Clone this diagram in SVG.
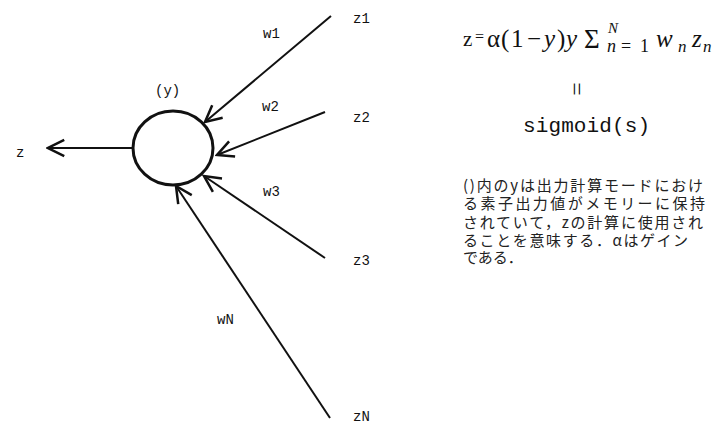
<svg xmlns="http://www.w3.org/2000/svg" width="713" height="424" viewBox="0 0 713 424">
<style>
  .lbl { font-family: "Liberation Mono", "DejaVu Sans Mono", monospace; font-size: 14px; fill: #111; }
  .edge { stroke: #111; stroke-width: 2; fill: none; }
  .math { font-family: "Liberation Serif", "DejaVu Serif", serif; fill: #111; }
  .it { font-style: italic; }
  .jp { font-family: "Noto Sans CJK JP", "Noto Sans", sans-serif; font-size: 15px; fill: #222; }
</style>
<defs>
  <marker id="arr" markerUnits="userSpaceOnUse" markerWidth="20" markerHeight="20" viewBox="-14 -8 16 16" refX="0" refY="0" orient="auto">
    <path d="M -13 -6.5 L 0 0 L -13 6.5" fill="none" stroke="#111" stroke-width="2"/>
  </marker>
</defs>
<rect width="713" height="424" fill="#fff"/>

<g id="connectors">
  <line class="edge" x1="133" y1="148" x2="48" y2="148" marker-end="url(#arr)"/>
  <line class="edge" x1="331" y1="16" x2="205" y2="122" marker-end="url(#arr)"/>
  <line class="edge" x1="325" y1="112" x2="217" y2="155" marker-end="url(#arr)"/>
  <line class="edge" x1="325" y1="258" x2="204" y2="176" marker-end="url(#arr)"/>
  <line class="edge" x1="330" y1="418" x2="176" y2="186" marker-end="url(#arr)"/>
  <text class="lbl" x="263" y="38">w1</text>
  <text class="lbl" x="262" y="111">w2</text>
  <text class="lbl" x="263" y="196">w3</text>
  <text class="lbl" x="217" y="324">wN</text>
</g>

<g id="neuron">
  <ellipse cx="173" cy="148" rx="40" ry="37" fill="#fff" stroke="#111" stroke-width="3"/>
  <text class="lbl" x="155" y="95" font-size="13">(y)</text>
</g>
<g id="output-z"><text class="lbl" x="16" y="157">z</text></g>
<g id="input-z1"><text class="lbl" x="353" y="23">z1</text></g>
<g id="input-z2"><text class="lbl" x="353" y="122">z2</text></g>
<g id="input-z3"><text class="lbl" x="353" y="265">z3</text></g>
<g id="input-zN"><text class="lbl" x="353" y="421">zN</text></g>

<g id="formula">
  <text class="math" font-size="21" x="463" y="46">z</text>
  <text class="math" font-size="16" x="475" y="42">=</text>
  <text class="math" font-size="25" y="47"><tspan x="487">α</tspan><tspan x="501">(</tspan><tspan x="511">1</tspan><tspan x="527">−</tspan><tspan class="it" x="544">y</tspan><tspan x="557">)</tspan><tspan class="it" x="566">y</tspan></text>
  <text class="math" font-size="27" x="584" y="48">Σ</text>
  <text class="math it" font-size="15" x="608" y="33">N</text>
  <text class="math" font-size="18" y="52"><tspan class="it" x="607">n</tspan><tspan x="621">=</tspan><tspan x="640">1</tspan></text>
  <text class="math it" font-size="25" x="656" y="47">w</text>
  <text class="math it" font-size="17" x="678" y="52">n</text>
  <text class="math it" font-size="25" x="692" y="47">z</text>
  <text class="math it" font-size="17" x="703" y="52">n</text>
  <text class="math" font-size="24" x="577" y="89" text-anchor="middle" dominant-baseline="central" transform="rotate(90 577 89)">=</text>
  <text style="font-family:'Liberation Mono',monospace" font-size="21" fill="#111" x="523" y="132" textLength="127">sigmoid(s)</text>
</g>

<g id="note">
  <text class="jp" x="463" y="191" textLength="240">()内のyは出力計算モードにおけ</text>
  <text class="jp" x="463" y="209" textLength="242">る素子出力値がメモリーに保持</text>
  <text class="jp" x="463" y="228" textLength="240">されていて，zの計算に使用され</text>
  <text class="jp" x="463" y="246" textLength="225">ることを意味する．αはゲイン</text>
  <text class="jp" x="463" y="263">である．</text>
</g>
</svg>
